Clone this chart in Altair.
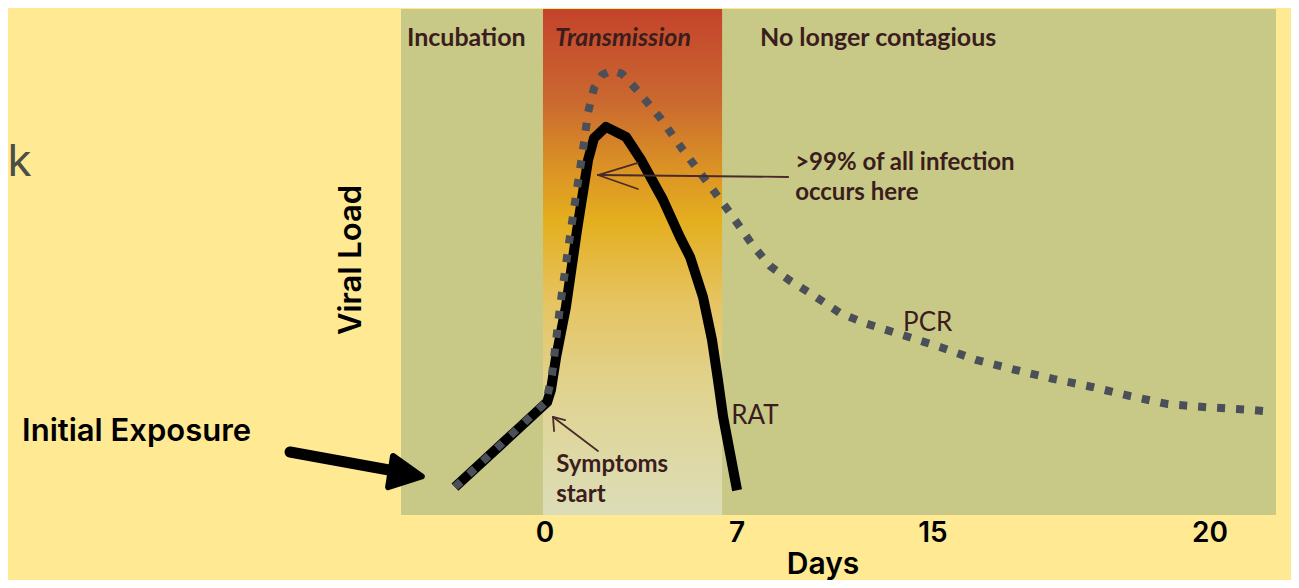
import altair as alt
import pandas as pd

# ---------------- data ----------------
# Days (x) / viral load (y, 0-100) coordinates of the curves
rat_day = [-3.51, 0.06, 0.21, 0.41, 0.79, 1.22, 1.65, 1.88, 2.34, 3.12, 3.70,
           4.55, 5.21, 5.60, 6.10, 6.45, 6.68, 6.88, 7.42]
rat_load = [5.5, 22.3, 24.7, 31.2, 41.1, 56.3, 70.2, 74.5, 76.7, 74.7, 70.2,
            62.3, 54.9, 51.0, 43.1, 34.6, 26.7, 19.4, 4.9]

pcr_day = [-3.51, 0.02, 0.25, 0.56, 0.87, 1.18, 1.45, 1.65, 1.88, 2.19, 2.58,
           2.96, 3.47, 4.44, 5.33, 6.26, 7.15, 8.04, 8.70, 9.47, 10.36, 11.41,
           12.38, 13.81, 15.28, 16.72, 18.19, 19.66, 21.18, 22.65, 24.12,
           25.63, 27.22, 28.15]
pcr_load = [5.5, 22.3, 27.7, 41.1, 52.4, 63.2, 72.1, 79.6, 84.4, 87.0, 87.9,
            87.2, 84.4, 78.5, 72.1, 65.8, 59.7, 53.2, 49.2, 46.3, 43.5, 39.9,
            37.9, 35.6, 33.2, 30.6, 28.7, 26.9, 25.3, 23.5, 21.9, 21.3, 20.8,
            20.4]

# transmission window
band_start = [-0.10]
band_end = [6.84]

# x tick labels and where they sit
tick_text = ["0", "7", "15", "20"]
tick_day = [-0.02, 7.42, 15.01, 25.74]

# region labels
region_text = ["Incubation", "No longer contagious"]
region_day = [-5.37, 8.31]
region_load = [94.3, 94.3]

# in-chart annotations
note_text = [">99% of all infection", "occurs here", "PCR", "RAT", "Symptoms", "start"]
note_day = [9.67, 9.67, 13.85, 7.19, 0.41, 0.41]
note_load = [69.6, 63.6, 37.9, 19.6, 9.9, 4.0]
note_weight = [700, 700, 400, 400, 700, 700]

# thin annotation arrows (shaft + two head strokes each)
arrow_seg = ["s1", "s1", "s1h1", "s1h1", "s1h2", "s1h2",
             "s2", "s2", "s2h1", "s2h1", "s2h2", "s2h2"]
arrow_day = [2.03, 0.29, 0.29, 0.33, 0.29, 0.76,
             9.40, 2.03, 2.03, 3.58, 2.03, 3.58]
arrow_load = [12.65, 19.37, 19.37, 16.60, 19.37, 18.77,
              66.80, 67.19, 67.19, 69.57, 67.19, 64.43]

# big "Initial Exposure" arrow
big_day = [-9.90, -5.64]
big_load = [12.45, 8.50]
head_day = [-5.40]
head_load = [8.10]

XDOM = [-5.6, 28.3]
YDOM = [0, 100]

xs = alt.Scale(domain=XDOM, nice=False, zero=False)
ys = alt.Scale(domain=YDOM, nice=False, zero=False)


def X(f="d"):
    return alt.X(f"{f}:Q", scale=xs, axis=None)


def Y(f="v"):
    return alt.Y(f"{f}:Q", scale=ys, axis=None)


grad = alt.Gradient(
    gradient="linear", x1=0, x2=0, y1=0, y2=1,
    stops=[
        alt.GradientStop(color="#C4432B", offset=0),
        alt.GradientStop(color="#CA6830", offset=0.18),
        alt.GradientStop(color="#DC9424", offset=0.32),
        alt.GradientStop(color="#E4AF1F", offset=0.42),
        alt.GradientStop(color="#E6C462", offset=0.58),
        alt.GradientStop(color="#E0D38F", offset=0.75),
        alt.GradientStop(color="#DCDDB8", offset=1.0),
    ],
)

band = alt.Chart(pd.DataFrame({"d": band_start, "d2": band_end,
                               "v": [YDOM[0]], "v2": [YDOM[1]]})).mark_rect(
    fill=grad).encode(x=X(), x2="d2:Q", y=Y(), y2="v2:Q")

rat_df = pd.DataFrame({"d": rat_day, "v": rat_load, "o": range(len(rat_day))})
pcr_df = pd.DataFrame({"d": pcr_day, "v": pcr_load, "o": range(len(pcr_day))})

rat = alt.Chart(rat_df).mark_line(color="#000000", strokeWidth=10,
                                  strokeJoin="round", strokeCap="butt").encode(
    x=X(), y=Y(), order="o:Q")
pcr = alt.Chart(pcr_df).mark_line(color="#4A4F58", strokeWidth=8,
                                  strokeDash=[8, 11], strokeCap="butt",
                                  strokeJoin="round").encode(
    x=X(), y=Y(), order="o:Q")

arr_df = pd.DataFrame({"seg": arrow_seg, "d": arrow_day, "v": arrow_load,
                       "o": range(len(arrow_seg))})
thin_arrows = alt.Chart(arr_df).mark_line(color="#4A2A2A", strokeWidth=1.8,
                                          strokeCap="round").encode(
    x=X(), y=Y(), detail="seg:N", order="o:Q")

big_df = pd.DataFrame({"d": big_day, "v": big_load, "o": [0, 1]})
big_shaft = alt.Chart(big_df).mark_line(color="#000000", strokeWidth=11,
                                        strokeCap="round").encode(
    x=X(), y=Y(), order="o:Q")
big_head = alt.Chart(pd.DataFrame({"d": head_day, "v": head_load})).mark_point(
    shape="M-1,-1L1,0L-1,1Z", filled=True, color="#000000", opacity=1,
    size=1000, angle=9, stroke="#000000", strokeWidth=6, strokeJoin="round").encode(
    x=X(), y=Y())

chart_font = "Lato"
ink = "#3B1D1D"

regions = alt.Chart(pd.DataFrame({"t": region_text, "d": region_day,
                                  "v": region_load})).mark_text(
    font=chart_font, fontSize=25, fontWeight="bold", color=ink, align="left",
    baseline="middle").encode(x=X(), y=Y(), text="t:N")
trans = alt.Chart(pd.DataFrame({"t": ["Transmission"], "d": [0.37],
                                "v": [94.3]})).mark_text(
    font=chart_font, fontSize=25, fontWeight="bold", fontStyle="italic", color=ink,
    align="left", baseline="middle").encode(x=X(), y=Y(), text="t:N")

notes_df = pd.DataFrame({"t": note_text, "d": note_day, "v": note_load,
                         "w": note_weight})
notes_b = alt.Chart(notes_df[notes_df.w == 700]).mark_text(
    font=chart_font, fontSize=24, fontWeight="bold", color=ink, align="left",
    baseline="middle").encode(x=X(), y=Y(), text="t:N")
notes_r = alt.Chart(notes_df[notes_df.w == 400]).mark_text(
    font=chart_font, fontSize=26, fontWeight="normal", color=ink, align="left",
    baseline="middle").encode(x=X(), y=Y(), text="t:N")

slide_font = "Inter"
ticks = alt.Chart(pd.DataFrame({"t": tick_text, "d": tick_day,
                                "v": [-3.75] * 4})).mark_text(
    font=slide_font, fontSize=28, fontWeight=600, color="#000000",
    align="center", baseline="middle").encode(x=X(), y=Y(), text="t:N")
days = alt.Chart(pd.DataFrame({"t": ["Days"], "d": [10.75],
                               "v": [-9.9]})).mark_text(
    font=slide_font, fontSize=30, fontWeight=600, color="#000000",
    align="center", baseline="middle").encode(x=X(), y=Y(), text="t:N")
vload = alt.Chart(pd.DataFrame({"t": ["Viral Load"], "d": [-7.5],
                                "v": [50.4]})).mark_text(
    font=slide_font, fontSize=31, fontWeight=600, color="#000000", angle=270,
    align="center", baseline="middle").encode(x=X(), y=Y(), text="t:N")
exposure = alt.Chart(pd.DataFrame({"t": ["Initial Exposure"], "d": [-20.28],
                                   "v": [16.4]})).mark_text(
    font=slide_font, fontSize=31, fontWeight=600, color="#000000",
    align="left", baseline="middle").encode(x=X(), y=Y(), text="t:N")
kk = alt.Chart(pd.DataFrame({"t": ["k"], "d": [-20.85],
                             "v": [69.6]})).mark_text(
    font=slide_font, fontSize=44, fontWeight=400, color="#4B4E47",
    align="left", baseline="middle").encode(x=X(), y=Y(), text="t:N")

chart = alt.layer(
    band, rat, pcr, thin_arrows, big_shaft, big_head,
    regions, trans, notes_b, notes_r, ticks, days, vload, exposure, kk,
).properties(
    width=875, height=506,
    padding={"left": 393, "top": 1, "right": 15, "bottom": 65},
    autosize=alt.AutoSizeParams(type="none"),
    background="#FFE993",
).configure_view(fill="#C8C987", stroke=None)

chart.save("out.html", embed_options={"renderer": "svg", "actions": False})
